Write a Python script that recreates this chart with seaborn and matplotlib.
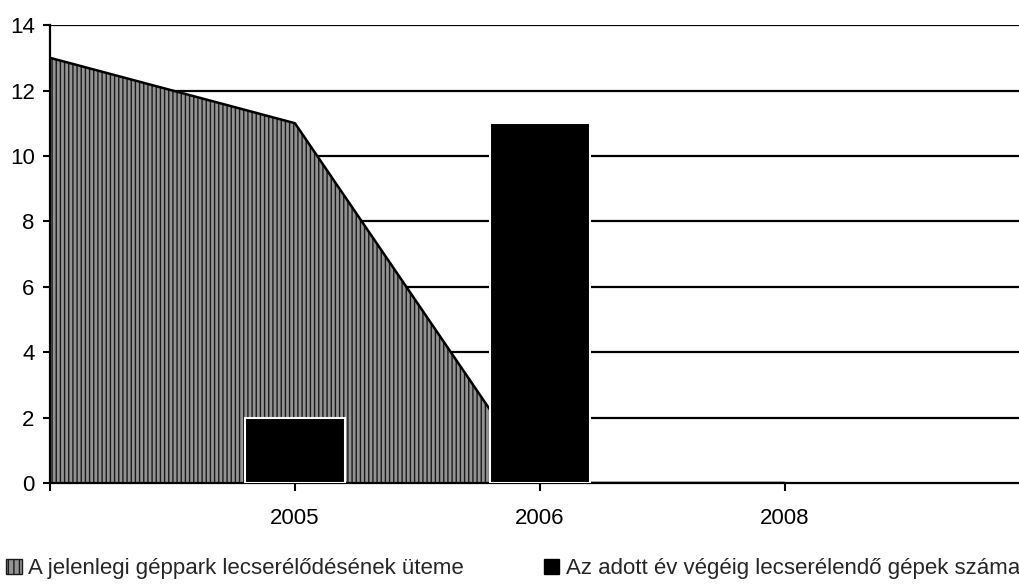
import numpy as np
import pandas as pd
import matplotlib
matplotlib.use("Agg")
import matplotlib.pyplot as plt
from matplotlib.patches import Patch
import seaborn as sns

# category slots on the x axis (first slot has no label)
x_labels = ["", "2005", "2006", "2008"]
# area series: pace of replacement of the current fleet
area_vals = [13, 11, 0, 0]
# bar series: machines to replace by end of year (only slots that have a bar)
bar_slots = ["2005", "2006"]
bar_vals = [2, 11]
area_name = "A jelenlegi géppark lecserélődésének üteme"
bar_name = "Az adott év végéig lecserélendő gépek száma"

sns.set_theme(style="white")
plt.rcParams["font.family"] = ["Liberation Sans", "DejaVu Sans"]

fig, ax = plt.subplots(figsize=(10.2, 5.84), dpi=100)
fig.subplots_adjust(left=0.049, right=1.0, top=0.957, bottom=0.173)

pos = np.arange(len(x_labels))
for y in range(2, 15, 2):
    ax.axhline(y, color="black", lw=1.6, zorder=0)

ax.fill_between(pos, area_vals, 0, facecolor="#939393", edgecolor="#1a1a1a",
                hatch="||||", linewidth=0, zorder=1)
sns.lineplot(x=pos, y=area_vals, color="black", lw=1.8, ax=ax, zorder=2)

df = pd.DataFrame({"slot": bar_slots, "value": bar_vals})
sns.barplot(data=df, x="slot", y="value", order=x_labels, color="black", width=0.41,
            edgecolor="white", linewidth=1.5, saturation=1, ax=ax, zorder=3)

ax.set_xlim(0, 3.96)
ax.set_ylim(0, 14)
ax.set_yticks(range(0, 15, 2))
ax.set_xticks(pos)
ax.set_xticklabels(x_labels)
ax.set_xlabel("")
ax.set_ylabel("")
ax.tick_params(axis="y", length=5, width=1.5, color="black", direction="out",
               labelsize=16, pad=6, left=True, labelcolor="black")
ax.tick_params(axis="x", length=6, width=1.5, color="black", direction="out",
               labelsize=16, pad=12, bottom=True, labelcolor="black")
for side in ["top", "right"]:
    ax.spines[side].set_visible(False)
for side in ["left", "bottom"]:
    ax.spines[side].set_color("black")
    ax.spines[side].set_linewidth(1.6)

h_area = Patch(facecolor="#939393", edgecolor="#1a1a1a", hatch="|||", label=area_name)
h_bar = Patch(facecolor="black", edgecolor="black", label=bar_name)
leg_kw = dict(frameon=False, fontsize=16, handlelength=0.7, handleheight=0.7,
              handletextpad=0.3, borderaxespad=0, borderpad=0)
fig.legend(handles=[h_area], loc="center left", bbox_to_anchor=(0.006, 0.026), **leg_kw)
fig.legend(handles=[h_bar], loc="center left", bbox_to_anchor=(0.533, 0.026), **leg_kw)

fig.savefig("out.png", dpi=100)
